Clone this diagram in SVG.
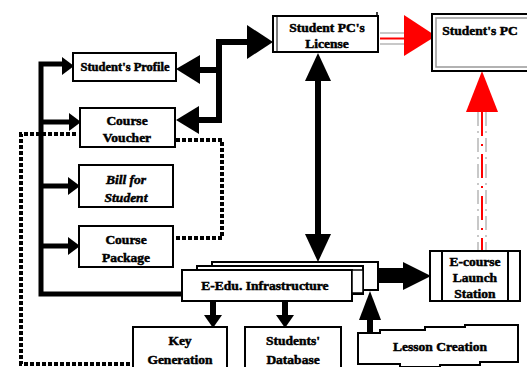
<svg xmlns="http://www.w3.org/2000/svg" width="527" height="367" viewBox="0 0 527 367">
<style>
.box{fill:#fff;stroke:#000;stroke-width:2}
.t{font-family:"Liberation Serif",serif;font-weight:bold;font-size:13.5px;fill:#000;text-anchor:middle;stroke:#000;stroke-width:0.5}
.it{font-style:italic}
.bus{fill:none;stroke:#000;stroke-width:5}
.thick{fill:none;stroke:#000;stroke-width:6}
.dot{fill:none;stroke:#000;stroke-width:4;stroke-dasharray:4 2}
.head{fill:#000}
.rhead{fill:#f00}
.gray{stroke:#c8c8c8;stroke-width:2;fill:none}
</style>
<rect width="527" height="367" fill="#fff"/>
<g id="connectors">
  <path class="bus" d="M183 294 H41 V64 H66"/>
  <path class="bus" d="M41 122 H72 M41 186 H71 M41 246 H71"/>
  <polygon class="head" points="74,66 62,57 62,75"/>
  <polygon class="head" points="81,122 69,113 69,131"/>
  <polygon class="head" points="80,186 68,177 68,195"/>
  <polygon class="head" points="80,246 68,237 68,255"/>
  <path class="thick" d="M198 70 H219 V120 H198 M219 70 V42 H250"/>
  <polygon class="head" points="176,69 200,55 200,84"/>
  <polygon class="head" points="176,120 199,106 199,134"/>
  <polygon class="head" points="273,42 247,25 247,59"/>
  <path class="dot" d="M76 134 H21 V364 H134"/>
  <path class="dot" d="M176 140 H222 V238 H176"/>
  <path class="thick" d="M318 76 V238"/>
  <polygon class="head" points="318,53 305,81 331,81"/>
  <polygon class="head" points="318,262 305,234 331,234"/>
  <path class="gray" d="M380 33 H406 M380 44 H406"/>
  <path d="M380 38.5 H406" stroke="#f00" stroke-width="2"/>
  <polygon class="rhead" points="436,36 404,15 404,56"/>
  <path class="gray" d="M478 112 V250 M486 112 V250" stroke-dasharray="14 5 2 5"/>
  <path d="M482 112 V250" stroke="#f00" stroke-width="2" stroke-dasharray="24 8 2 8"/>
  <polygon class="rhead" points="482,71 466,112 498,112"/>
  <rect class="head" x="376" y="268" width="28" height="15"/>
  <polygon class="head" points="431,276 403,262 403,290"/>
  <path class="thick" d="M213 300 V318 M285 293 V318" stroke-width="5"/>
  <polygon class="head" points="213,328 204,315 222,315"/>
  <polygon class="head" points="285,328 276,315 294,315"/>
  <path class="thick" d="M370 337 V316"/>
  <polygon class="head" points="370,291 359,320 381,320"/>
</g>
<g id="profile">
  <rect class="box" x="73" y="53" width="103" height="28"/>
  <text class="t" x="125" y="71" style="font-size:12.5px">Student's Profile</text>
</g>
<g id="voucher">
  <rect class="box" x="80" y="108" width="95" height="39"/>
  <text class="t" x="127" y="125">Course</text>
  <text class="t" x="127" y="142">Voucher</text>
</g>
<g id="bill">
  <rect class="box" x="79" y="165" width="94" height="42"/>
  <text class="t it" x="126" y="184">Bill for</text>
  <text class="t it" x="126" y="202">Student</text>
</g>
<g id="package">
  <rect class="box" x="79" y="226" width="94" height="41"/>
  <text class="t" x="126" y="244">Course</text>
  <text class="t" x="126" y="262">Package</text>
</g>
<g id="license">
  <path d="M377 12 V18" stroke="#000" stroke-width="1.5"/>
  <rect class="box" x="273" y="16" width="105" height="36"/>
  <path d="M277 16 V52" stroke="#000" stroke-width="1"/>
  <text class="t" x="327" y="32">Student PC's</text>
  <text class="t" x="327" y="48">License</text>
</g>
<g id="studentpc">
  <rect class="box" x="432" y="14" width="100" height="57"/>
  <rect x="436" y="18" width="96" height="49" fill="none" stroke="#999" stroke-width="1.5"/>
  <text class="t" x="480" y="35">Student's PC</text>
</g>
<g id="infrastructure">
  <rect class="box" x="212" y="262" width="166" height="28"/>
  <rect class="box" x="197" y="266" width="166" height="28"/>
  <rect class="box" x="182" y="270" width="170" height="31"/>
  <rect x="352" y="270" width="11" height="23" fill="#fff" stroke="#000" stroke-width="1.5"/>
  <text class="t" x="265" y="290">E-Edu. Infrastructure</text>
</g>
<g id="launch">
  <rect class="box" x="430" y="251" width="90" height="50"/>
  <path d="M442 251 V301 M508 251 V301" stroke="#000" stroke-width="2"/>
  <text class="t" x="475" y="266">E-course</text>
  <text class="t" x="475" y="282">Launch</text>
  <text class="t" x="475" y="298">Station</text>
</g>
<g id="keygen">
  <rect class="box" x="133" y="327" width="94" height="45"/>
  <text class="t" x="180" y="345">Key</text>
  <text class="t" x="180" y="364">Generation</text>
</g>
<g id="database">
  <rect class="box" x="245" y="327" width="96" height="45"/>
  <text class="t" x="293" y="345">Students'</text>
  <text class="t" x="293" y="364">Database</text>
</g>
<g id="lesson">
  <path class="box" d="M358 333 H380 V330 H425 V327 H465 V325 H518 V362 H480 V365 H440 V367 H400 V364 H358 Z"/>
  <text class="t" x="440" y="351">Lesson Creation</text>
</g>
</svg>
